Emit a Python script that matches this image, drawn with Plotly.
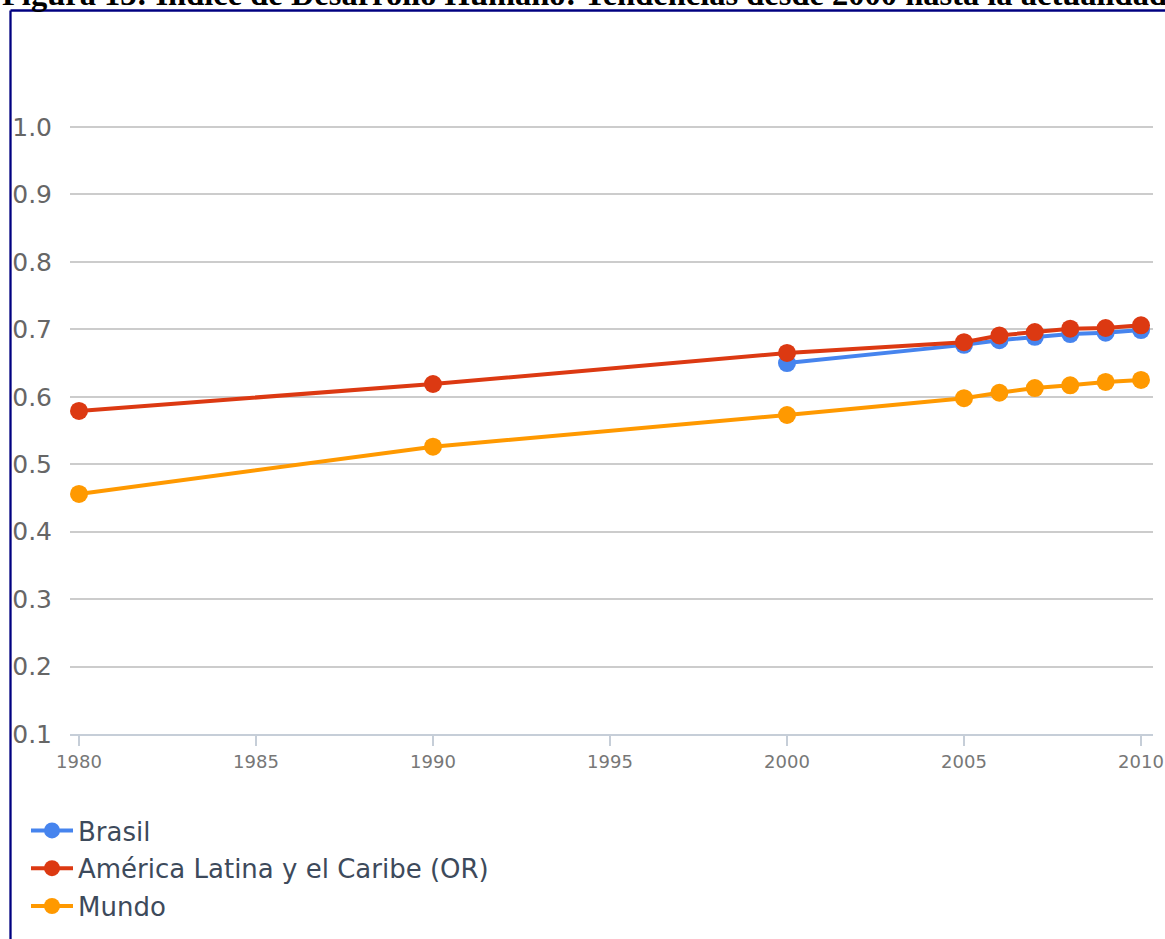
import plotly.graph_objects as go

# Índice de Desarrollo Humano (IDH)
years_brasil = [2000, 2005, 2006, 2007, 2008, 2009, 2010]
idh_brasil = [0.650, 0.677, 0.684, 0.689, 0.693, 0.695, 0.699]

years_alc = [1980, 1990, 2000, 2005, 2006, 2007, 2008, 2009, 2010]
idh_alc = [0.579, 0.619, 0.665, 0.681, 0.691, 0.696, 0.701, 0.702, 0.706]

years_mundo = [1980, 1990, 2000, 2005, 2006, 2007, 2008, 2009, 2010]
idh_mundo = [0.456, 0.526, 0.573, 0.598, 0.606, 0.613, 0.617, 0.622, 0.625]

x_ticks = [1980, 1985, 1990, 1995, 2000, 2005, 2010]
y_ticks = [0.1, 0.2, 0.3, 0.4, 0.5, 0.6, 0.7, 0.8, 0.9, 1.0]
y_ticktext = ["0.1", "0.2", "0.3", "0.4", "0.5", "0.6", "0.7", "0.8", "0.9", "1.0"]

series = [
    ("Brasil", years_brasil, idh_brasil, "#4684ee"),
    ("América Latina y el Caribe (OR)", years_alc, idh_alc, "#dc3912"),
    ("Mundo", years_mundo, idh_mundo, "#ff9900"),
]

W, H = 1165, 939
L, R, T, B = 70, 12, 120, 205
PW, PH = W - L - R, H - T - B
Y_TOP = 0.1 + (H - B - T) / 674.4  # 0.1 units per 67.44 px


def px_x(px):
    return (px - L) / PW


def px_y(py):
    return (H - B - py) / PH


fig = go.Figure()
for name, xs, ys, color in series:
    fig.add_trace(go.Scatter(
        x=xs, y=ys, name=name, mode="lines+markers",
        legendgroup=name,
        line=dict(color=color, width=4),
        marker=dict(color=color, size=18),
        cliponaxis=False,
    ))

fig.update_layout(
    width=W, height=H,
    margin=dict(l=L, r=R, t=T, b=B, autoexpand=False),
    paper_bgcolor="white",
    plot_bgcolor="white",
    font=dict(family="DejaVu Sans"),
    showlegend=True,
    legend=dict(
        x=px_x(26), y=px_y(807), xanchor="left", yanchor="top",
        orientation="v", traceorder="grouped", tracegroupgap=1,
        itemwidth=42,
        font=dict(size=26, color="#3d4a5b", family="DejaVu Sans"),
        bgcolor="rgba(0,0,0,0)",
    ),
    xaxis=dict(
        range=[1980 - 9 / 35.4, 2010 + 12 / 35.4],
        tickvals=x_ticks,
        showgrid=False, zeroline=False,
        showline=True, linecolor="#c6ced8", linewidth=2,
        ticks="outside", ticklen=10, tickwidth=1.5, tickcolor="#c6ced8",
        tickfont=dict(size=18, color="#777777", family="DejaVu Sans"),
    ),
    yaxis=dict(
        range=[0.1, Y_TOP],
        tickvals=y_ticks, ticktext=y_ticktext,
        showgrid=True, gridcolor="#cccccc", gridwidth=1.5,
        zeroline=False, showline=False, ticks="",
        ticklabelstandoff=17,
        tickfont=dict(size=25, color="#666666", family="DejaVu Sans"),
    ),
)

# Figure caption above the frame
fig.add_annotation(
    text="<b>Figura 13: Índice de Desarrollo Humano: Tendencias desde 2000 hasta la actualidad</b>",
    xref="paper", yref="paper", x=px_x(0), y=px_y(-6),
    xanchor="left", yanchor="middle", showarrow=False,
    font=dict(family="Liberation Serif", size=32.5, color="black"),
)

# Navy frame (left and top edges)
fig.add_shape(type="line", xref="paper", yref="paper",
              x0=px_x(10.5), x1=px_x(10.5), y0=px_y(10.5), y1=px_y(H + 5),
              line=dict(color="#000080", width=2.3))
fig.add_shape(type="line", xref="paper", yref="paper",
              x0=px_x(10.5), x1=px_x(W + 5), y0=px_y(10.5), y1=px_y(10.5),
              line=dict(color="#000080", width=2.3))

fig.write_html("out.html")
